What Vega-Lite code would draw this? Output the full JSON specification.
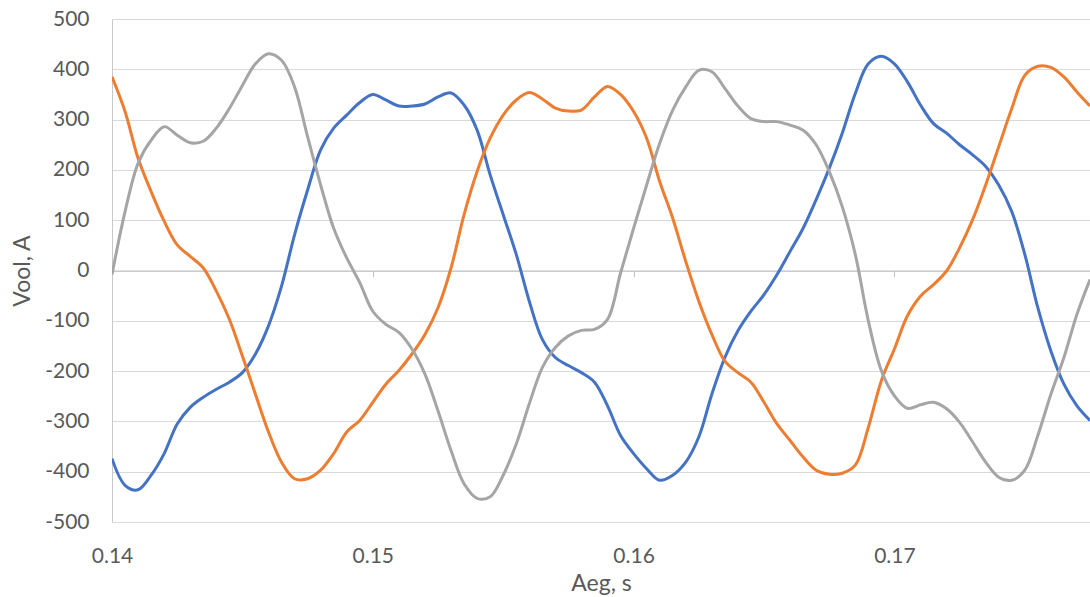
{
  "$schema": "https://vega.github.io/schema/vega-lite/v6.json",
  "width": 978,
  "height": 503,
  "autosize": {"type": "none"},
  "padding": {"left": 112, "top": 19, "right": 0, "bottom": 75},
  "background": "white",
  "config": {"view": {"stroke": null}, "font": "Lato"},
  "data": {"values": [
    {"t":0.1400,"s":"A","v":-374},{"t":0.1405,"s":"A","v":-427},{"t":0.1410,"s":"A","v":-436},{"t":0.1415,"s":"A","v":-407},{"t":0.1420,"s":"A","v":-364},{"t":0.1425,"s":"A","v":-305},{"t":0.1430,"s":"A","v":-272},{"t":0.1435,"s":"A","v":-252},{"t":0.1440,"s":"A","v":-236},{"t":0.1445,"s":"A","v":-222},
    {"t":0.1450,"s":"A","v":-203},{"t":0.1455,"s":"A","v":-166},{"t":0.1460,"s":"A","v":-110},{"t":0.1465,"s":"A","v":-31},{"t":0.1470,"s":"A","v":71},{"t":0.1475,"s":"A","v":160},{"t":0.1480,"s":"A","v":240},{"t":0.1485,"s":"A","v":283},{"t":0.1490,"s":"A","v":309},{"t":0.1495,"s":"A","v":334},
    {"t":0.1500,"s":"A","v":350},{"t":0.1505,"s":"A","v":339},{"t":0.1510,"s":"A","v":327},{"t":0.1515,"s":"A","v":327},{"t":0.1520,"s":"A","v":331},{"t":0.1525,"s":"A","v":345},{"t":0.1530,"s":"A","v":353},{"t":0.1535,"s":"A","v":329},{"t":0.1540,"s":"A","v":279},{"t":0.1545,"s":"A","v":190},
    {"t":0.1550,"s":"A","v":111},{"t":0.1555,"s":"A","v":32},{"t":0.1560,"s":"A","v":-61},{"t":0.1565,"s":"A","v":-137},{"t":0.1570,"s":"A","v":-173},{"t":0.1575,"s":"A","v":-189},{"t":0.1580,"s":"A","v":-203},{"t":0.1585,"s":"A","v":-222},{"t":0.1590,"s":"A","v":-269},{"t":0.1595,"s":"A","v":-328},
    {"t":0.1600,"s":"A","v":-364},{"t":0.1605,"s":"A","v":-394},{"t":0.1610,"s":"A","v":-417},{"t":0.1615,"s":"A","v":-407},{"t":0.1620,"s":"A","v":-381},{"t":0.1625,"s":"A","v":-331},{"t":0.1630,"s":"A","v":-246},{"t":0.1635,"s":"A","v":-173},{"t":0.1640,"s":"A","v":-120},{"t":0.1645,"s":"A","v":-81},
    {"t":0.1650,"s":"A","v":-48},{"t":0.1655,"s":"A","v":-8},{"t":0.1660,"s":"A","v":38},{"t":0.1665,"s":"A","v":84},{"t":0.1670,"s":"A","v":141},{"t":0.1675,"s":"A","v":203},{"t":0.1680,"s":"A","v":273},{"t":0.1685,"s":"A","v":352},{"t":0.1690,"s":"A","v":411},{"t":0.1695,"s":"A","v":426},
    {"t":0.1700,"s":"A","v":411},{"t":0.1705,"s":"A","v":375},{"t":0.1710,"s":"A","v":329},{"t":0.1715,"s":"A","v":292},{"t":0.1720,"s":"A","v":273},{"t":0.1725,"s":"A","v":250},{"t":0.1730,"s":"A","v":230},{"t":0.1735,"s":"A","v":207},{"t":0.1740,"s":"A","v":170},{"t":0.1745,"s":"A","v":117},
    {"t":0.1750,"s":"A","v":32},{"t":0.1755,"s":"A","v":-74},{"t":0.1760,"s":"A","v":-160},{"t":0.1765,"s":"A","v":-226},{"t":0.1770,"s":"A","v":-269},{"t":0.1775,"s":"A","v":-298},

    {"t":0.1400,"s":"B","v":385},{"t":0.1405,"s":"B","v":316},{"t":0.1410,"s":"B","v":223},{"t":0.1415,"s":"B","v":157},{"t":0.1420,"s":"B","v":98},{"t":0.1425,"s":"B","v":51},{"t":0.1430,"s":"B","v":28},{"t":0.1435,"s":"B","v":5},{"t":0.1440,"s":"B","v":-41},{"t":0.1445,"s":"B","v":-97},
    {"t":0.1450,"s":"B","v":-170},{"t":0.1455,"s":"B","v":-246},{"t":0.1460,"s":"B","v":-321},{"t":0.1465,"s":"B","v":-381},{"t":0.1470,"s":"B","v":-414},{"t":0.1475,"s":"B","v":-414},{"t":0.1480,"s":"B","v":-397},{"t":0.1485,"s":"B","v":-364},{"t":0.1490,"s":"B","v":-321},{"t":0.1495,"s":"B","v":-298},
    {"t":0.1500,"s":"B","v":-262},{"t":0.1505,"s":"B","v":-226},{"t":0.1510,"s":"B","v":-199},{"t":0.1515,"s":"B","v":-166},{"t":0.1520,"s":"B","v":-127},{"t":0.1525,"s":"B","v":-74},{"t":0.1530,"s":"B","v":5},{"t":0.1535,"s":"B","v":111},{"t":0.1540,"s":"B","v":197},{"t":0.1545,"s":"B","v":263},
    {"t":0.1550,"s":"B","v":309},{"t":0.1555,"s":"B","v":339},{"t":0.1560,"s":"B","v":354},{"t":0.1565,"s":"B","v":341},{"t":0.1570,"s":"B","v":323},{"t":0.1575,"s":"B","v":317},{"t":0.1580,"s":"B","v":319},{"t":0.1585,"s":"B","v":345},{"t":0.1590,"s":"B","v":366},{"t":0.1595,"s":"B","v":350},
    {"t":0.1600,"s":"B","v":316},{"t":0.1605,"s":"B","v":263},{"t":0.1610,"s":"B","v":177},{"t":0.1615,"s":"B","v":104},{"t":0.1620,"s":"B","v":18},{"t":0.1625,"s":"B","v":-61},{"t":0.1630,"s":"B","v":-127},{"t":0.1635,"s":"B","v":-180},{"t":0.1640,"s":"B","v":-203},{"t":0.1645,"s":"B","v":-222},
    {"t":0.1650,"s":"B","v":-262},{"t":0.1655,"s":"B","v":-305},{"t":0.1660,"s":"B","v":-338},{"t":0.1665,"s":"B","v":-371},{"t":0.1670,"s":"B","v":-397},{"t":0.1675,"s":"B","v":-405},{"t":0.1680,"s":"B","v":-403},{"t":0.1685,"s":"B","v":-387},{"t":0.1690,"s":"B","v":-312},{"t":0.1695,"s":"B","v":-219},
    {"t":0.1700,"s":"B","v":-156},{"t":0.1705,"s":"B","v":-90},{"t":0.1710,"s":"B","v":-51},{"t":0.1715,"s":"B","v":-28},{"t":0.1720,"s":"B","v":-1},{"t":0.1725,"s":"B","v":45},{"t":0.1730,"s":"B","v":101},{"t":0.1735,"s":"B","v":170},{"t":0.1740,"s":"B","v":246},{"t":0.1745,"s":"B","v":322},
    {"t":0.1750,"s":"B","v":388},{"t":0.1755,"s":"B","v":406},{"t":0.1760,"s":"B","v":404},{"t":0.1765,"s":"B","v":385},{"t":0.1770,"s":"B","v":355},{"t":0.1775,"s":"B","v":327},

    {"t":0.1400,"s":"C","v":-8},{"t":0.1405,"s":"C","v":117},{"t":0.1410,"s":"C","v":213},{"t":0.1415,"s":"C","v":259},{"t":0.1420,"s":"C","v":286},{"t":0.1425,"s":"C","v":269},{"t":0.1430,"s":"C","v":254},{"t":0.1435,"s":"C","v":257},{"t":0.1440,"s":"C","v":283},{"t":0.1445,"s":"C","v":322},
    {"t":0.1450,"s":"C","v":368},{"t":0.1455,"s":"C","v":411},{"t":0.1460,"s":"C","v":431},{"t":0.1465,"s":"C","v":418},{"t":0.1470,"s":"C","v":365},{"t":0.1475,"s":"C","v":266},{"t":0.1480,"s":"C","v":170},{"t":0.1485,"s":"C","v":84},{"t":0.1490,"s":"C","v":25},{"t":0.1495,"s":"C","v":-24},
    {"t":0.1500,"s":"C","v":-81},{"t":0.1505,"s":"C","v":-107},{"t":0.1510,"s":"C","v":-123},{"t":0.1515,"s":"C","v":-156},{"t":0.1520,"s":"C","v":-206},{"t":0.1525,"s":"C","v":-279},{"t":0.1530,"s":"C","v":-358},{"t":0.1535,"s":"C","v":-424},{"t":0.1540,"s":"C","v":-453},{"t":0.1545,"s":"C","v":-450},
    {"t":0.1550,"s":"C","v":-407},{"t":0.1555,"s":"C","v":-345},{"t":0.1560,"s":"C","v":-265},{"t":0.1565,"s":"C","v":-193},{"t":0.1570,"s":"C","v":-153},{"t":0.1575,"s":"C","v":-130},{"t":0.1580,"s":"C","v":-119},{"t":0.1585,"s":"C","v":-117},{"t":0.1590,"s":"C","v":-97},{"t":0.1595,"s":"C","v":-5},
    {"t":0.1600,"s":"C","v":84},{"t":0.1605,"s":"C","v":170},{"t":0.1610,"s":"C","v":253},{"t":0.1615,"s":"C","v":319},{"t":0.1620,"s":"C","v":365},{"t":0.1625,"s":"C","v":398},{"t":0.1630,"s":"C","v":395},{"t":0.1635,"s":"C","v":362},{"t":0.1640,"s":"C","v":327},{"t":0.1645,"s":"C","v":302},
    {"t":0.1650,"s":"C","v":296},{"t":0.1655,"s":"C","v":296},{"t":0.1660,"s":"C","v":289},{"t":0.1665,"s":"C","v":279},{"t":0.1670,"s":"C","v":250},{"t":0.1675,"s":"C","v":197},{"t":0.1680,"s":"C","v":127},{"t":0.1685,"s":"C","v":32},{"t":0.1690,"s":"C","v":-100},{"t":0.1695,"s":"C","v":-199},
    {"t":0.1700,"s":"C","v":-249},{"t":0.1705,"s":"C","v":-274},{"t":0.1710,"s":"C","v":-267},{"t":0.1715,"s":"C","v":-262},{"t":0.1720,"s":"C","v":-275},{"t":0.1725,"s":"C","v":-302},{"t":0.1730,"s":"C","v":-341},{"t":0.1735,"s":"C","v":-381},{"t":0.1740,"s":"C","v":-411},{"t":0.1745,"s":"C","v":-417},
    {"t":0.1750,"s":"C","v":-397},{"t":0.1755,"s":"C","v":-328},{"t":0.1760,"s":"C","v":-246},{"t":0.1765,"s":"C","v":-173},{"t":0.1770,"s":"C","v":-87},{"t":0.1775,"s":"C","v":-18}
  ]},
  "mark": {"type": "line", "interpolate": "catmull-rom", "strokeWidth": 3, "clip": true},
  "encoding": {
    "x": {
      "field": "t", "type": "quantitative",
      "scale": {"domain": [0.14, 0.1775], "nice": false, "zero": false},
      "axis": {
        "values": [0.14, 0.15, 0.16, 0.17],
        "format": ".2f",
        "grid": false,
        "offset": -251.5,
        "domain": true, "domainColor": "#bfbfbf", "domainWidth": 1,
        "ticks": true, "tickSize": 6, "tickColor": "#bfbfbf", "tickWidth": 1,
        "labelPadding": 269,
        "labelFlush": false,
        "labelFont": "Lato", "labelFontSize": 21, "labelColor": "#595959",
        "title": "Aeg, s",
        "titleFont": "Lato", "titleFontSize": 23, "titleFontWeight": "normal", "titleColor": "#595959",
        "titleBaseline": "top",
        "titleY": 302
      }
    },
    "y": {
      "field": "v", "type": "quantitative",
      "scale": {"domain": [-500, 500], "nice": false},
      "axis": {
        "values": [-500, -400, -300, -200, -100, 0, 100, 200, 300, 400, 500],
        "labelExpr": "toString(datum.value)",
        "grid": true, "gridColor": "#d9d9d9", "gridWidth": 1,
        "domain": true, "domainColor": "#c8c8c8", "domainWidth": 1,
        "ticks": false,
        "labelPadding": 23,
        "labelFont": "Lato", "labelFontSize": 21, "labelColor": "#595959",
        "title": "Vool, A",
        "titleFont": "Lato", "titleFontSize": 23, "titleFontWeight": "normal", "titleColor": "#595959",
        "titlePadding": 10
      }
    },
    "color": {
      "field": "s", "type": "nominal",
      "scale": {"domain": ["A", "B", "C"], "range": ["#4472C4", "#ED7D31", "#A5A5A5"]},
      "legend": null
    }
  }
}
